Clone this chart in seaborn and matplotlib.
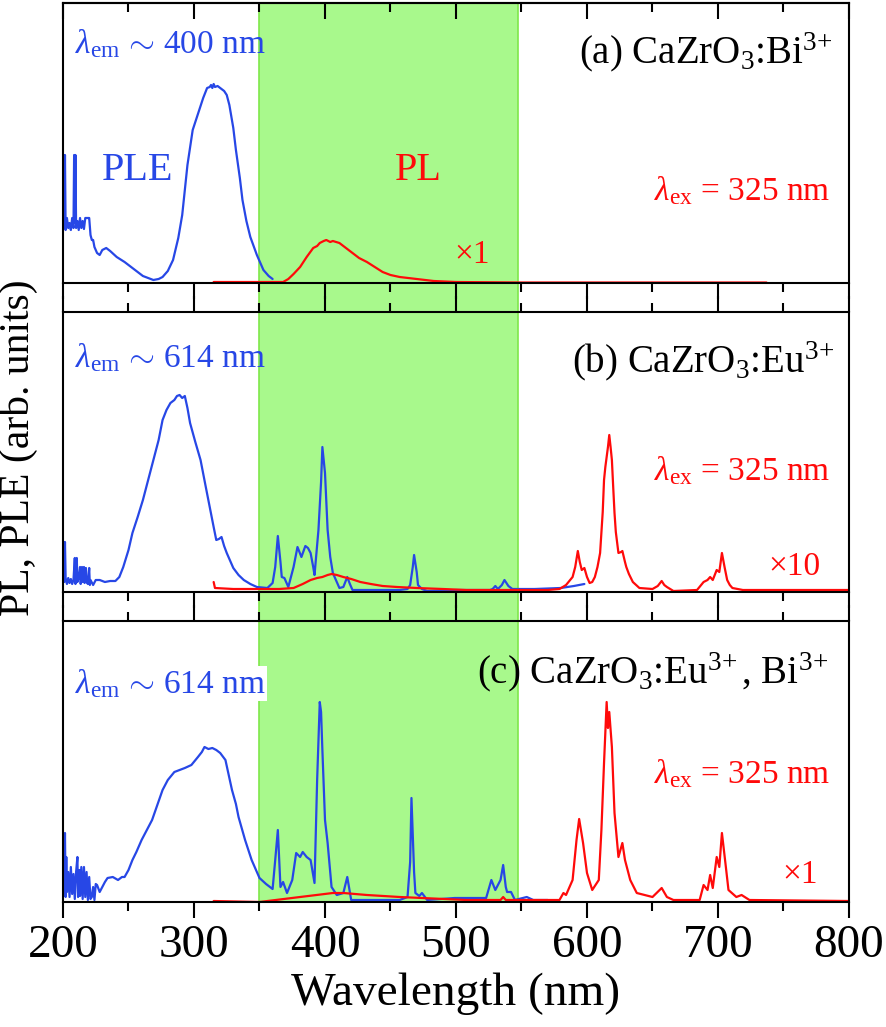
import numpy as np
import pandas as pd
import matplotlib
matplotlib.use("Agg")
import matplotlib.pyplot as plt
from matplotlib.ticker import MultipleLocator
import seaborn as sns

# ---- data (wavelength in nm, intensity in arb. units) ----
# (a) CaZrO3:Bi3+
ple_a_wl = [200, 200.5, 201, 201.5, 202, 203, 204, 205, 206, 207, 208, 208.5, 209, 209.5, 210, 211, 212,
            213, 214, 215, 216, 217, 218, 219, 220, 221, 222, 223, 224, 226, 228, 230, 233, 236, 241, 247,
            253, 261, 265, 269, 273, 276, 280, 284, 288, 291, 295, 299, 304, 307, 310, 312, 313, 314, 315,
            316, 318, 320, 323, 325, 327, 330, 332, 335, 337, 340, 343, 348, 353, 357, 360]
ple_a_int = [60, 128, 55, 128, 53, 65, 55, 60, 53, 65, 55, 128, 60, 128, 55, 62, 53,
             65, 55, 62, 54, 65, 65, 65, 65, 48, 43, 43, 36, 30, 28, 33, 35, 32, 26, 21,
             15, 7, 5, 3, 4, 6, 12, 23, 45, 68, 118, 153, 173, 185, 195, 196, 198, 195, 199,
             196, 197, 195, 192, 188, 178, 155, 133, 105, 83, 62, 46, 28, 13, 7, 4]
pl_a_wl = [315, 340, 365, 368, 372, 376, 381, 386, 391, 394, 396, 399, 401, 404, 406, 411, 416, 421, 426,
           432, 438, 444, 450, 457, 470, 483, 500, 550, 600, 737]
pl_a_int = [1, 1, 1, 1, 4, 9, 16, 26, 35, 37, 40, 42, 43, 41, 42, 40, 35, 30, 25,
            21, 16, 11, 8, 6, 4, 2, 1, 0.5, 0.5, 0.5]

# (b) CaZrO3:Eu3+
ple_b_wl = [200, 200.5, 201, 201.5, 202, 203, 204, 205, 206, 207, 208, 209, 209.5, 210.5, 211, 212, 213,
            213.5, 214.5, 215, 216, 216.5, 217.5, 218, 219, 220, 220.5, 221, 223, 225, 228, 232, 236, 240,
            243, 246, 250, 253, 257, 261, 265, 269, 273, 276, 279, 282, 285, 287, 289, 291, 293, 295, 297,
            301, 305, 309, 312, 315, 317, 319, 321, 323, 325, 328, 330, 334, 338, 343, 348, 356, 360, 362,
            364, 366, 367, 369, 372, 376, 379, 382, 385, 387, 389, 391, 392, 395, 397, 398, 400, 402, 404,
            406, 411, 414, 417, 419, 421, 440, 457, 463, 465, 467, 468, 470, 471, 474, 478, 500, 526, 528,
            530, 532, 535, 537, 540, 543, 560, 580, 590, 598]
ple_b_int = [12, 50, 10, 50, 14, 8, 14, 9, 13, 8, 12, 34, 8, 34, 10, 14, 25,
             8, 25, 10, 25, 9, 24, 10, 8, 24, 7, 12, 7, 12, 12, 10, 11, 11,
             15, 25, 42, 59, 75, 92, 112, 132, 152, 172, 182, 189, 192, 196, 197, 194, 196, 184, 169,
             150, 132, 105, 85, 65, 52, 53, 55, 46, 39, 30, 24, 17, 12, 8, 5, 4, 9, 25,
             56, 30, 15, 14, 5, 25, 45, 35, 46, 44, 39, 25, 17, 62, 110, 145, 119, 62, 35,
             19, 4, 5, 15, 8, 2, 2, 2, 3, 7, 25, 37, 20, 7, 3, 1, 2, 2, 3,
             6, 3, 7, 12, 6, 3, 3, 4, 6, 8]
pl_b_wl = [315, 316, 330, 350, 365, 376, 383, 389, 394, 398, 402, 405, 409, 414, 420, 427, 435, 444, 455,
           470, 490, 508, 546, 570, 579, 584, 589, 591, 593, 594.5, 596, 598, 600, 602, 604, 606, 608, 610,
           612, 613, 614, 615, 616, 617, 618, 619, 620, 621, 622, 624, 626, 627, 629, 630, 632, 635, 640,
           650, 654, 657, 659, 661, 666, 684, 689, 692, 694, 696, 699, 701, 703, 705, 707, 709, 711, 719,
           740, 760, 800]
pl_b_int = [10, 4, 3, 3, 3, 4, 8, 12, 14, 15, 17, 18, 17, 15, 13, 10, 8, 6, 5,
            4, 3, 2, 2, 2, 3, 7, 15, 25, 41, 30, 22, 24, 15, 9, 10, 15, 25, 39,
            80, 112, 125, 135, 145, 157, 145, 132, 105, 79, 60, 39, 40, 41, 30, 25, 18, 10, 4,
            3, 6, 11, 7, 5, 1, 2, 10, 12, 15, 12, 22, 20, 39, 25, 12, 7, 4, 2,
            2, 2, 2]

# (c) CaZrO3:Eu3+, Bi3+
ple_c_wl = [200, 200.5, 201, 201.5, 202, 202.5, 203, 204, 205, 206, 207, 208, 209, 210, 211, 211.5, 212.5,
            213, 214, 215, 216, 217, 218, 219, 220, 221, 222, 223, 224, 225, 226, 228, 230, 232, 234, 238,
            242, 245, 247, 250, 253, 256, 260, 264, 268, 272, 276, 280, 285, 289, 293, 298, 303, 306, 308,
            311, 314, 317, 320, 324, 326, 329, 332, 334, 339, 344, 349, 350, 355, 360, 362, 364, 366, 368,
            371, 375, 378, 381, 383, 386, 389, 392, 394, 396, 397, 398, 400, 402, 405, 409, 414, 417, 420,
            440, 457, 463, 465, 466, 468, 469, 472, 474, 478, 499, 523, 527, 530, 534, 536, 538, 539, 542,
            545, 554, 559, 570]
ple_c_int = [20, 50, 10, 69, 5, 45, 10, 30, 5, 35, 8, 28, 3, 30, 45, 5, 32,
             6, 35, 3, 35, 5, 30, 2, 25, 3, 5, 15, 2, 18, 17, 10, 15, 20, 24, 25,
             22, 25, 25, 32, 42, 50, 62, 72, 82, 97, 112, 122, 130, 132, 134, 137, 145, 150, 155,
             153, 154, 152, 149, 142, 130, 112, 98, 85, 62, 42, 27, 24, 18, 13, 42, 72, 15, 20,
             9, 22, 49, 45, 50, 45, 42, 19, 122, 200, 190, 152, 82, 59, 15, 7, 9, 25, 2,
             2, 2, 5, 40, 104, 30, 9, 6, 9, 2, 4, 4, 22, 12, 22, 37, 15, 10, 10,
             2, 5, 2, 2]
pl_c_wl = [315, 350, 381, 406, 414, 432, 457, 508, 534, 536, 538, 579, 582, 584, 589, 592, 594, 597, 600,
           604, 609, 611, 613, 615, 616, 617, 619, 621, 624, 627, 629, 633, 638, 650, 657, 661, 666, 686,
           689, 692, 694, 696, 699, 701, 703, 706, 708, 714, 718, 724, 800]
pl_c_int = [1, 0, 5, 9, 9, 7, 5, 2, 2, 5, 2, 2, 9, 7, 22, 62, 83, 59, 29,
            12, 22, 72, 139, 200, 174, 190, 155, 89, 45, 59, 42, 22, 9, 5, 14, 5, 2, 2,
            17, 12, 27, 14, 45, 35, 69, 35, 12, 5, 7, 2, 1]

# ---- style ----
sns.set_style("ticks")
plt.rcParams["font.family"] = ["Liberation Serif", "DejaVu Serif"]
plt.rcParams["mathtext.fontset"] = "custom"
plt.rcParams["mathtext.rm"] = "Liberation Serif"
plt.rcParams["mathtext.it"] = "Liberation Serif:italic"
plt.rcParams["text.color"] = "black"
plt.rcParams["axes.labelcolor"] = "black"
plt.rcParams["xtick.color"] = "black"
plt.rcParams["xtick.labelcolor"] = "black"

BLUE = "#2747e6"
RED = "#ff0a0a"
GREEN = "#a8f98c"

W, H = 886, 1027
fig = plt.figure(figsize=(W / 100, H / 100), dpi=100)

left, right = 63 / W, 849 / W
panels_px = [(3, 283), (312, 592), (621, 902)]

# green band behind all three panels
bg = fig.add_axes([left, 1 - 902 / H, right - left, (902 - 3) / H], zorder=0)
bg.set_xlim(200, 800)
bg.set_ylim(0, 1)
bg.axvspan(350, 547, color=GREEN, lw=0)
bg.axvline(350, color="#7fe84a", lw=1.2)
bg.axvline(547, color="#7fe84a", lw=1.2)
bg.axis("off")

axes = []
for top, bot in panels_px:
    ax = fig.add_axes([left, 1 - bot / H, right - left, (bot - top) / H], zorder=1)
    ax.set_facecolor("none")
    ax.set_xlim(200, 800)
    ax.set_ylim(0, bot - top)
    ax.set_yticks([])
    ax.xaxis.set_major_locator(MultipleLocator(100))
    ax.xaxis.set_minor_locator(MultipleLocator(50))
    ax.tick_params(axis="x", which="major", direction="out", length=11.5, width=1.5,
                   top=True, bottom=True, labelbottom=False, labelsize=34, pad=5)
    ax.tick_params(axis="x", which="minor", direction="out", length=6.5, width=1.5,
                   top=True, bottom=True)
    for s in ax.spines.values():
        s.set_linewidth(1.5)
        s.set_color("black")
    axes.append(ax)

ax_a, ax_b, ax_c = axes

# top panel: ticks on the top edge point inwards
ax_a.tick_params(axis="x", which="both", top=False)
sec = ax_a.secondary_xaxis("top")
sec.xaxis.set_major_locator(MultipleLocator(100))
sec.xaxis.set_minor_locator(MultipleLocator(50))
sec.tick_params(axis="x", which="major", direction="in", length=11.5, width=1.5, labeltop=False)
sec.tick_params(axis="x", which="minor", direction="in", length=6.5, width=1.5)
sec.spines["top"].set_linewidth(1.5)

ax_c.tick_params(axis="x", which="major", labelbottom=True)

curves = [
    (ax_a, ple_a_wl, ple_a_int, BLUE), (ax_a, pl_a_wl, pl_a_int, RED),
    (ax_b, ple_b_wl, ple_b_int, BLUE), (ax_b, pl_b_wl, pl_b_int, RED),
    (ax_c, ple_c_wl, ple_c_int, BLUE), (ax_c, pl_c_wl, pl_c_int, RED),
]
for ax, wl, inten, col in curves:
    df = pd.DataFrame({"wl": wl, "I": inten})
    sns.lineplot(data=df, x="wl", y="I", ax=ax, color=col, linewidth=1.6,
                 estimator=None, sort=False)
    ax.set_xlabel("")
    ax.set_ylabel("")
ax_c.set_xlabel("Wavelength (nm)", fontsize=34, labelpad=4)

em = r"$\lambda_{\mathrm{em}}\,\sim\,$"
ex = r"$\lambda_{\mathrm{ex}}$ = "
sup = r"$^{3\!+}$"

# panel (a)
ax_a.text(209, 230, em + "400 nm", color=BLUE, fontsize=24, ha="left", va="baseline")
ax_a.text(230, 113, "PLE", color=BLUE, fontsize=29, ha="left", va="center")
ax_a.text(453, 113, "PL", color=RED, fontsize=29, ha="left", va="center")
ax_a.text(788, 220, r"(a) CaZrO$_3$:Bi" + sup, color="black", fontsize=28, ha="right", va="baseline")
ax_a.text(786, 83, ex + "325 nm", color=RED, fontsize=24, ha="right", va="baseline")
ax_a.text(512, 28, "×1", color=RED, fontsize=24, ha="center", va="center")

# panel (b)
ax_b.text(209, 225, em + "614 nm", color=BLUE, fontsize=24, ha="left", va="baseline")
ax_b.text(789, 220, r"(b) CaZrO$_3$:Eu" + sup, color="black", fontsize=28, ha="right", va="baseline")
ax_b.text(786, 112, ex + "325 nm", color=RED, fontsize=24, ha="right", va="baseline")
ax_b.text(778, 17, "×10", color=RED, fontsize=24, ha="right", va="baseline")

# panel (c)
ax_c.text(209, 209, em + "614 nm", color=BLUE, fontsize=24, ha="left", va="baseline",
          bbox=dict(facecolor="white", edgecolor="none", pad=1))
ax_c.text(784, 219, r"(c) CaZrO$_3$:Eu" + sup + ", Bi" + sup, color="black", fontsize=28,
          ha="right", va="baseline")
ax_c.text(786, 119, ex + "325 nm", color=RED, fontsize=24, ha="right", va="baseline")
ax_c.text(776, 19, "×1", color=RED, fontsize=24, ha="right", va="baseline")

fig.text(18 / W, 1 - 448 / H, "PL, PLE (arb. units)", rotation=90, fontsize=30,
         ha="center", va="center")

fig.savefig("out.png", dpi=100)
